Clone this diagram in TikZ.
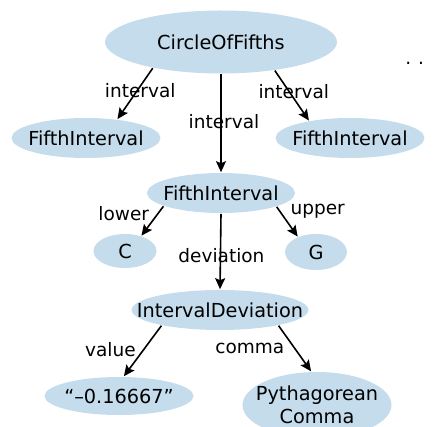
\documentclass[tikz,border=0pt]{standalone}
\usepackage{fontspec}
\setmainfont{DejaVu Sans}
\usepackage{tikz}
\usetikzlibrary{arrows.meta,shapes.geometric}
\definecolor{owlblue}{RGB}{197,220,236}

\begin{document}
\begin{tikzpicture}[->,>={Stealth[length=11pt,width=10pt,inset=2pt]},line width=1.6pt,x=1pt,y=-1pt,
  every node/.style={font=\fontsize{18.5}{23}\selectfont},
  cls/.style={ellipse,fill=owlblue,inner xsep=-40pt,inner ysep=-10pt,align=center,font=\fontsize{19.3}{23}\selectfont}]
  \useasboundingbox (0,0) rectangle (433,427);
  \node [cls,minimum width=232pt,minimum height=63pt] (cof) at (221,42) {CircleOfFifths};
  \node [cls,minimum width=149pt,minimum height=40pt] (fil) at (86,138) {FifthInterval};
  \node [cls,minimum width=149pt,minimum height=40pt] (fir) at (350,138) {FifthInterval};
  \node [cls,minimum width=148pt,minimum height=40pt] (fim) at (221,193) {FifthInterval};
  \node [cls,minimum width=63pt,minimum height=34pt] (c) at (125,251) {C};
  \node [cls,minimum width=62pt,minimum height=36pt] (g) at (316,252) {G};
  \node [cls,minimum width=177pt,minimum height=40pt] (dev) at (220,310) {IntervalDeviation};
  \node [cls,minimum width=149pt,minimum height=38pt] (val) at (119,396) {“–0.16667”};
  \node [cls,minimum width=149pt,minimum height=66pt] (pyth) at (317,405) {Pythagorean\\Comma};

  \node [inner sep=0pt,anchor=base west] (more) at (404.5,65) {.\hspace{7pt}.};

  \path[->] (cof.201) edge node [pos=.44,xshift=3pt] {interval} (fil.31)
        (cof.270) edge node [pos=.48,xshift=3pt] {interval} (fim.90)
        (cof.332) edge node [pos=.41,xshift=5pt] {interval} (fir.157);
  \path[->] (fim.193) edge node [pos=.26,xshift=-34pt] {lower} (c.43)
        (fim.346) edge node [pos=.14,xshift=38pt] {upper} (g.140)
        (fim.270) edge node [pos=.56,xshift=1pt] {deviation} (dev.90);
  \path[->] (dev.195) edge node [pos=.48,xshift=-33pt] {value} (val.76)
        (dev.345) edge node [pos=.5,xshift=-45pt] {comma} (pyth.100);
\end{tikzpicture}
\end{document}
